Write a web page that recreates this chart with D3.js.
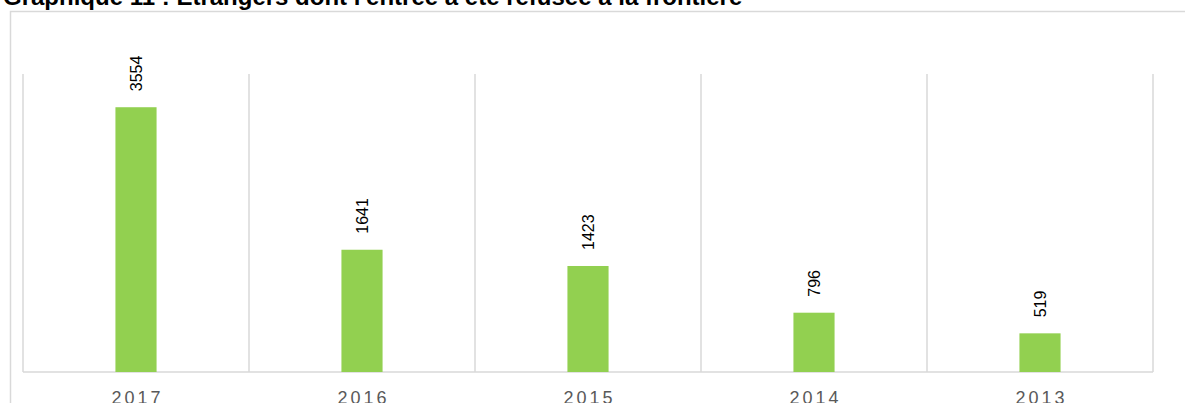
<!DOCTYPE html>
<html>
<head>
<meta charset="utf-8">
<script src="https://cdn.jsdelivr.net/npm/d3@7"></script>
<style>
  html, body { margin: 0; padding: 0; background: #fff; overflow: hidden; }
  svg { display: block; font-family: "Liberation Sans", Arial, sans-serif; }
</style>
</head>
<body>
<div id="chart"></div>
<script>
// Données : étrangers refusés à la frontière
const years = ["2017", "2016", "2015", "2014", "2013"];
const refused = [3554, 1641, 1423, 796, 519];
const title = "Graphique 11 : Étrangers dont l'entrée a été refusée à la frontière";

const width = 1185, height = 403;
const margin = { top: 74, right: 32, bottom: 31, left: 23 };

const svg = d3.select("#chart").append("svg")
  .attr("width", width)
  .attr("height", height);

// cadre du graphique
svg.append("rect")
  .attr("x", 10.5)
  .attr("y", 11.5)
  .attr("width", width)
  .attr("height", height)
  .attr("fill", "none")
  .attr("stroke", "#d9d9d9")
  .attr("stroke-width", 1.5);

svg.append("text")
  .attr("x", 3)
  .attr("y", 5)
  .attr("font-size", "24px")
  .attr("font-weight", "bold")
  .attr("fill", "#000")
  .text(title);

const x = d3.scaleBand()
  .domain(years)
  .range([margin.left, width - margin.right])
  .padding(0);

const y = d3.scaleLinear()
  .domain([0, 4000])
  .range([height - margin.bottom, margin.top]);

const barW = x.bandwidth() * 0.182;

// séparateurs verticaux entre catégories
const bounds = years.map(d => x(d)).concat([x.range()[1]]);
svg.append("g")
  .selectAll("line")
  .data(bounds)
  .join("line")
  .attr("x1", d => d)
  .attr("x2", d => d)
  .attr("y1", y(4000))
  .attr("y2", y(0))
  .attr("stroke", "#d9d9d9")
  .attr("stroke-width", 1.5);

svg.append("line")
  .attr("x1", x.range()[0])
  .attr("x2", x.range()[1])
  .attr("y1", y(0))
  .attr("y2", y(0))
  .attr("stroke", "#d9d9d9")
  .attr("stroke-width", 1.5);

svg.append("g")
  .selectAll("rect")
  .data(years)
  .join("rect")
  .attr("x", (d, i) => x(d) + (x.bandwidth() - barW) / 2)
  .attr("y", (d, i) => y(refused[i]))
  .attr("width", barW)
  .attr("height", (d, i) => y(0) - y(refused[i]))
  .attr("fill", "#92d050");

// étiquettes de valeurs, pivotées
svg.append("g")
  .selectAll("text")
  .data(years)
  .join("text")
  .attr("transform", (d, i) => {
    const cx = x(d) + x.bandwidth() / 2;
    return `translate(${cx},${y(refused[i]) - 16}) rotate(-90)`;
  })
  .attr("dy", "0.35em")
  .attr("text-anchor", "start")
  .attr("font-size", "16px")
  .attr("fill", "#000")
  .text((d, i) => refused[i]);

// libellés des années
svg.append("g")
  .selectAll("text")
  .data(years)
  .join("text")
  .attr("x", d => x(d) + x.bandwidth() / 2 + 1.5)
  .attr("y", 403.5)
  .attr("text-anchor", "middle")
  .attr("font-size", "18px")
  .attr("letter-spacing", "3px")
  .attr("fill", "#595959")
  .text(d => d);
</script>
</body>
</html>
